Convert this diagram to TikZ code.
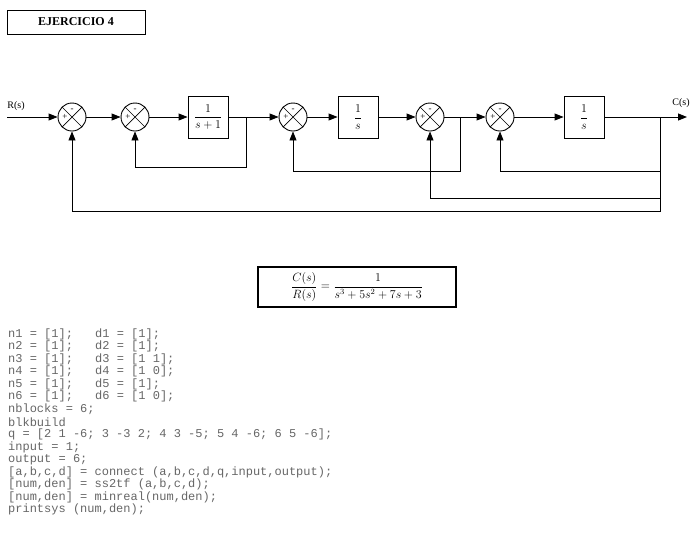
\documentclass[tikz,border=0pt]{standalone}
\usepackage{amsmath}
\usepackage{fontspec}
\setmainfont{Liberation Serif}
\setmonofont{Liberation Mono}
\usetikzlibrary{arrows.meta}
\begin{document}
\begin{tikzpicture}[x=1pt,y=-1pt,
  sumj/.style={draw,circle,minimum size=28pt,inner sep=0pt,line width=0.9pt,
    path picture={\draw[line width=0.7pt] (path picture bounding box.north west)--(path picture bounding box.south east)
      (path picture bounding box.north east)--(path picture bounding box.south west);}},
  blk/.style={draw,line width=0.9pt,minimum width=40pt,minimum height=42pt,inner sep=0pt,font=\fontsize{13}{14}\selectfont},
  sig/.style={line width=0.9pt},
  arr/.style={sig,-{Triangle[length=9pt,width=7pt]}},
  sg/.style={font=\fontsize{9}{9}\selectfont,inner sep=0pt},
  code/.style={anchor=west,inner sep=0pt,text=black!60,font=\ttfamily\fontsize{12}{12}\selectfont}]
\useasboundingbox (0,0) rectangle (700,555);
\node[draw,line width=1pt,minimum width=138pt,minimum height=24pt,font=\bfseries\fontsize{12}{12}\selectfont] (title) at (76,22) {EJERCICIO 4};
\coordinate (in) at (7,117);
\node[font=\fontsize{10}{10}\selectfont] (rl) at (16,106) {R(s)};
\node[sumj] (s1) at (72,117) {};
\node[sumj] (s2) at (135,117) {};
\node[blk] (b1) at (208,117) {$\dfrac{1}{s+1}$};
\node[sumj] (s3) at (293,117) {};
\node[blk] (b2) at (358,117) {$\dfrac{1}{s}$};
\node[sumj] (s4) at (430,117) {};
\node[sumj] (s5) at (500,117) {};
\node[blk] (b3) at (584,117) {$\dfrac{1}{s}$};
\coordinate (out) at (687,117);
\node[font=\fontsize{10}{10}\selectfont] (cl) at (681,103) {C(s)};
\foreach \s in {s1,s2,s3,s4,s5}{
  \node[sg] at ([xshift=-7pt]\s.center) {+};
  \node[sg] at ([yshift=7pt]\s.center) {-};
}
\coordinate (p1) at (246,117);
\coordinate (p2) at (460,117);
\coordinate (p3) at (660,117);
\draw[arr] (in)--(s1);
\draw[arr] (s1)--(s2);
\draw[arr] (s2)--(b1);
\draw[arr] (b1)--(s3);
\draw[arr] (s3)--(b2);
\draw[arr] (b2)--(s4);
\draw[arr] (s4)--(s5);
\draw[arr] (s5)--(b3);
\draw[arr] (b3)--(out);
\draw[arr] (p1)--(246,167)-|(s2.south);
\draw[arr] (p2)--(460,171)-|(s3.south);
\draw[arr] (p3)--(660,171)-|(s5.south);
\draw[arr] (p3)--(660,198)-|(s4.south);
\draw[arr] (p3)--(660,211)-|(s1.south);
\node[draw,line width=1.6pt,minimum width=198pt,minimum height=40pt,inner sep=0pt,font=\fontsize{12}{12}\selectfont] (eq) at (357,287)
  {$\dfrac{C(s)}{R(s)}=\dfrac{1}{s^3+5s^2+7s+3}$};
\foreach \t [count=\i from 0] in {
 {n1 = [1];}, {n2 = [1];}, {n3 = [1];}, {n4 = [1];}, {n5 = [1];}, {n6 = [1];},
 {nblocks = 6;},
 {blkbuild},
 {q = [2 1 -6; 3 -3 2; 4 3 -5; 5 4 -6; 6 5 -6];},
 {input = 1;},
 {output = 6;},
 {[a,b,c,d] = connect (a,b,c,d,q,input,output);},
 {[num,den] = ss2tf (a,b,c,d);},
 {[num,den] = minreal(num,den);},
 {printsys (num,den);}}
 \node[code] (c\i) at (8,334+12.55*\i) {\t};
\foreach \t [count=\i from 0] in {
 {d1 = [1];}, {d2 = [1];}, {d3 = [1 1];}, {d4 = [1 0];}, {d5 = [1];}, {d6 = [1 0];}}
 \node[code] (d\i) at (95,334+12.55*\i) {\t};
\end{tikzpicture}
\end{document}
